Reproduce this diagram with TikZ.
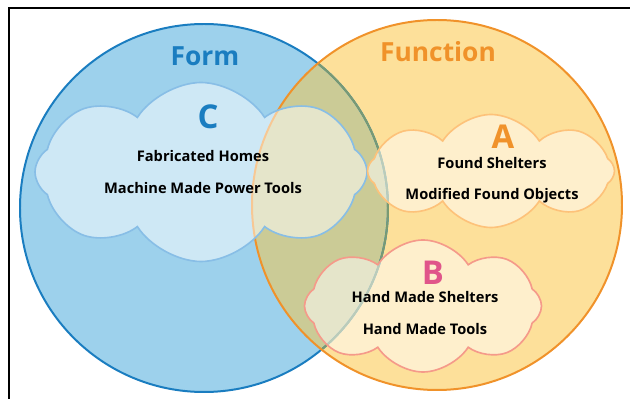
\documentclass[tikz,border=0pt]{standalone}
\usepackage{fontspec}
\setmainfont{Open Sans}
\usetikzlibrary{shapes.symbols}

\definecolor{formfill}{HTML}{9DD1EC}
\definecolor{formline}{HTML}{1A7DC0}
\definecolor{funcfill}{HTML}{FDE09A}
\definecolor{funcline}{HTML}{F0922A}
\definecolor{bothfill}{HTML}{CBCB96}
\definecolor{bothline}{HTML}{7A9A72}
\definecolor{cloudC}{HTML}{88BEE6}
\definecolor{cloudA}{HTML}{FDC27A}
\definecolor{cloudB}{HTML}{F59A8A}
\definecolor{pinkB}{HTML}{E0558A}

\begin{document}
\begin{tikzpicture}[x=0.03cm,y=-0.03cm]
    % Define styles
    \tikzstyle{ring} = [line width=1.7pt]
    \tikzstyle{puff} = [cloud, cloud puffs=8, cloud puff arc=115, cloud ignores aspect, draw,
        fill=white, fill opacity=0.5, line width=1.4pt, inner sep=0pt]
    \tikzstyle{title} = [font=\fontsize{22.5}{26}\selectfont\bfseries]
    \tikzstyle{letter} = [font=\fontsize{28}{32}\selectfont\bfseries]
    \tikzstyle{item} = [font=\fontsize{12.5}{15}\selectfont\bfseries]

    \useasboundingbox (0,0) rectangle (630,399);

    % Circle centres
    \coordinate (formc) at (204,208);
    \coordinate (funcc) at (437,205);

    % Fills
    \fill[formfill] (formc) circle (184);
    \fill[funcfill] (funcc) circle (185);
    \begin{scope}
        \clip (formc) circle (184);
        \fill[bothfill] (funcc) circle (185);
    \end{scope}

    % Outlines
    \draw[ring, formline] (formc) circle (184);
    \begin{scope}
        \clip (funcc) circle (185);
        \draw[ring, bothline] (formc) circle (184);
    \end{scope}
    \draw[ring, funcline] (funcc) circle (185);

    % Frame
    \draw[line width=1.7pt] (9,420) -- (9,8) -- (640,8);

    % Clouds
    \node [puff, draw=cloudC, minimum width=9.96cm, minimum height=5.37cm] (cloudc) at (201,172) {};
    \node [puff, draw=cloudA, minimum width=7.41cm, minimum height=3.39cm] (clouda) at (491,171) {};
    \node [puff, draw=cloudB, minimum width=7.11cm, minimum height=3.96cm] (cloudb) at (423,306) {};

    % Titles
    \node [title, text=formline] (form) at (205,56) {Form};
    \node [title, text=funcline] (function) at (438,52) {Function};

    % Letters
    \node [letter, text=formline] (lc) at (208,117) {C};
    \node [letter, text=funcline] (la) at (503,137) {A};
    \node [letter, text=pinkB] (lb) at (433,273) {B};

    % Items
    \node [item] (homes) at (203,156) {Fabricated Homes};
    \node [item] (power) at (203,188) {Machine Made Power Tools};
    \node [item] (found) at (492,163) {Found Shelters};
    \node [item] (objects) at (492,196) {Modified Found Objects};
    \node [item] (shelters) at (425,297) {Hand Made Shelters};
    \node [item] (tools) at (425,329) {Hand Made Tools};
\end{tikzpicture}
\end{document}
